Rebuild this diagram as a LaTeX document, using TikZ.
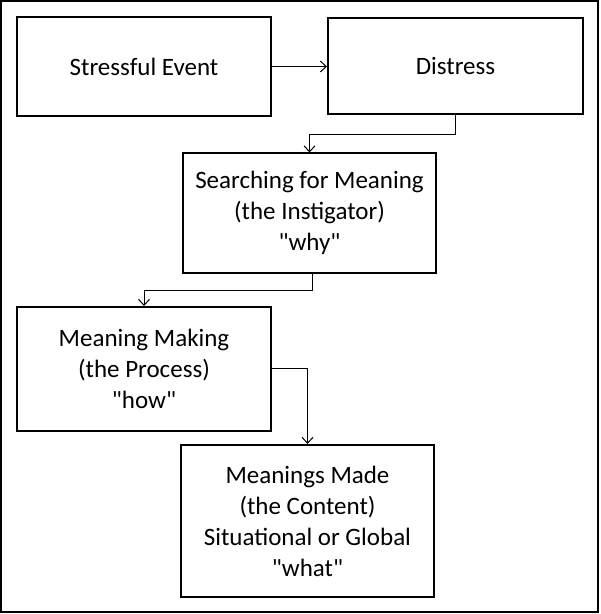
\documentclass[tikz,border=0pt]{standalone}
\usepackage{fontspec}
\setmainfont{Carlito}
\usetikzlibrary{arrows.meta,positioning,calc}

\begin{document}
\begin{tikzpicture}[x=0.5pt, y=-0.5pt, font=\fontsize{12.5}{15.5}\selectfont, >={Straight Barb[length=3pt,width=5.5pt]},
  stage/.style={draw, line width=1pt, align=center, inner sep=2pt},
  link/.style={->, line width=0.5pt}]
  \useasboundingbox (0,0) rectangle (600,614);
  \draw[line width=1pt] (1,1) rectangle (598,612);
  \node[stage, minimum width=127pt, minimum height=49.5pt] (event) at (144,66.5) {Stressful Event};
  \node[stage, minimum width=127.5pt, minimum height=48pt] (distress) at (455.5,66) {Distress};
  \node[stage, minimum width=126.5pt, minimum height=59.5pt] (search) at (309.5,213) {Searching for Meaning\\(the Instigator)\\\textquotedbl why\textquotedbl};
  \node[stage, minimum width=127pt, minimum height=62pt] (making) at (144,369) {Meaning Making\\(the Process)\\\textquotedbl how\textquotedbl};
  \node[stage, minimum width=126.5pt, minimum height=76pt] (made) at (307.5,521) {Meanings Made\\(the Content)\\Situational or Global\\\textquotedbl what\textquotedbl};
  \draw[link] (event.east) -- (event.east -| distress.west);
  \draw[link] (distress.south) -- ++(0,20) -| (search.north);
  \draw[link] ($(search.south)+(2.5,0)$) -- ++(0,17) -| (making.north);
  \draw[link] (making.east |- 0,368) -| (made.north);
\end{tikzpicture}
\end{document}
